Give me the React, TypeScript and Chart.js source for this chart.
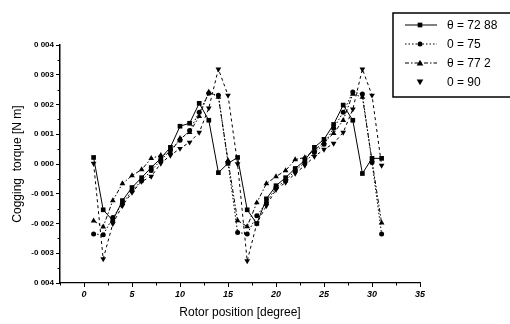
import React, { useEffect, useRef } from 'react';
import { Chart, registerables } from 'chart.js';

Chart.register(...registerables);

const rotorPosition = [1, 2, 3, 4, 5, 6, 7, 8, 9, 10, 11, 12, 13, 14, 15, 16, 17, 18, 19, 20, 21, 22, 23, 24, 25, 26, 27, 28, 29, 30, 31];

const torque7288 = [0.00022, -0.00154, -0.0019, -0.00123, -0.00079, -0.00046, -0.00012, 0.00019, 0.00056, 0.00127, 0.00137, 0.00204, 0.00147, -0.00029, 0.00002,
  0.00022, -0.00154, -0.002, -0.00117, -0.00073, -0.00046, -0.00015, 0.00012, 0.00056, 0.00083, 0.00133, 0.00198, 0.00147, -0.00032, 0.00019, 0.00019];

const torque75 = [-0.00235, -0.00238, -0.0018, -0.00133, -0.0009, -0.00056, -0.00022, 0.00012, 0.00046, 0.0008, 0.00113, 0.00174, 0.00238, 0.00231, 0.00005,
  -0.0023, -0.00235, -0.00174, -0.0013, -0.00079, -0.00056, -0.00022, 0.00005, 0.00039, 0.00066, 0.0012, 0.00174, 0.00242, 0.00235, 0.00005, -0.00235];

const torque772 = [-0.00191, -0.00211, -0.00123, -0.00066, -0.00039, -0.00019, 0.00019, 0.00029, 0.00039, 0.00086, 0.00106, 0.0016, 0.00242, 0.00225, 0.00012,
  -0.0019, -0.0021, -0.0013, -0.00066, -0.00042, -0.00022, 0.00015, 0.00022, 0.00046, 0.00073, 0.00103, 0.00147, 0.00235, 0.00225, 0.00012, -0.00198];

const torque90 = [0.00002, -0.00319, -0.00201, -0.0014, -0.00096, -0.00059, -0.00042, 0.00002, 0.00029, 0.00052, 0.00073, 0.00106, 0.00188, 0.00319, 0.00231,
  0.0, -0.00326, -0.002, -0.0014, -0.00086, -0.00062, -0.00032, -0.00005, 0.00025, 0.00049, 0.00069, 0.00106, 0.00184, 0.00319, 0.00231, -0.00005];

const seriesLabels = ['θ = 72 88', '0 = 75', 'θ = 77 2', '0 = 90'];
const yTickLabels = ['0 004', '-0 003', '-0 002', '-0 001', '0 000', '0 001', '0 002', '0 003', '0 004'];
const xTitle = 'Rotor position [degree]';
const yTitle = 'Cogging  torque [N m]';

const FONT = 'Arial, "Liberation Sans", sans-serif';

function drawMarker(ctx: CanvasRenderingContext2D, style: string, rot: number, r: number, x: number, y: number) {
  ctx.beginPath();
  if (style === 'rect') {
    const s = r * Math.SQRT1_2;
    ctx.rect(x - s, y - s, 2 * s, 2 * s);
  } else if (style === 'circle') {
    ctx.arc(x, y, r, 0, Math.PI * 2);
  } else {
    const dir = rot === 180 ? -1 : 1;
    const h = r * 1.5;
    ctx.moveTo(x, y - dir * r);
    ctx.lineTo(x - r * 0.866 * 1.15, y + dir * h / 2);
    ctx.lineTo(x + r * 0.866 * 1.15, y + dir * h / 2);
    ctx.closePath();
  }
  ctx.fill();
}

const minorTicksPlugin = {
  id: 'minorTicks',
  afterDraw(chart: any) {
    const ctx = chart.ctx;
    const xs = chart.scales.x;
    const ys = chart.scales.y;
    ctx.save();
    ctx.strokeStyle = '#000';
    ctx.lineWidth = 1;
    ctx.beginPath();
    for (let k = -1; k <= 13; k += 2) {
      const v = k * 2.5;
      if (v < xs.min || v > xs.max) continue;
      const px = Math.round(xs.getPixelForValue(v)) + 0.5;
      ctx.moveTo(px, ys.bottom);
      ctx.lineTo(px, ys.bottom + 2.5);
    }
    for (let k = -7; k <= 7; k += 2) {
      const v = k * 0.0005;
      const py = Math.round(ys.getPixelForValue(v)) + 0.5;
      ctx.moveTo(xs.left - 2.5, py);
      ctx.lineTo(xs.left, py);
    }
    ctx.stroke();
    ctx.restore();
  },
};

const boxLegendPlugin = {
  id: 'boxLegend',
  afterDraw(chart: any) {
    const ctx = chart.ctx;
    ctx.save();
    ctx.strokeStyle = '#000';
    ctx.lineWidth = 1.5;
    ctx.strokeRect(393, 13, 140, 84);
    chart.data.datasets.forEach((ds: any, i: number) => {
      const y = 25 + i * 19;
      ctx.strokeStyle = '#000';
      ctx.fillStyle = '#000';
      ctx.lineWidth = 1;
      if (ds.legendLine) {
        ctx.setLineDash(ds.borderDash || []);
        ctx.beginPath();
        ctx.moveTo(405, y);
        ctx.lineTo(437, y);
        ctx.stroke();
        ctx.setLineDash([]);
      }
      drawMarker(ctx, ds.pointStyle, ds.pointRotation || 0, ds.pointRadius, 420, y);
      ctx.font = '12px ' + FONT;
      ctx.textBaseline = 'middle';
      ctx.textAlign = 'left';
      ctx.fillText(ds.label, 447, y + 1);
    });
    ctx.restore();
  },
};

export default function App() {
  const canvasRef = useRef<HTMLCanvasElement | null>(null);

  useEffect(() => {
    document.body.style.margin = '0';
    const canvas = canvasRef.current;
    if (!canvas) return;
    const mk = (label: string, values: number[], style: string, radius: number, dash: number[], legendLine: boolean, rotation = 0) => ({
      label,
      data: rotorPosition.map((x, i) => ({ x, y: values[i] })),
      borderColor: '#000',
      backgroundColor: '#000',
      borderWidth: 1,
      borderDash: dash,
      pointStyle: style,
      pointRotation: rotation,
      pointRadius: radius,
      pointBorderWidth: 0,
      pointBackgroundColor: '#000',
      tension: 0,
      fill: false,
      legendLine,
    });

    const chart = new Chart(canvas, {
      type: 'line',
      data: {
        datasets: [
          mk(seriesLabels[0], torque7288, 'rect', 3.3, [], true),
          mk(seriesLabels[1], torque75, 'circle', 2.5, [1.5, 2], true),
          mk(seriesLabels[2], torque772, 'triangle', 3.3, [4, 2, 1.5, 2], true),
          mk(seriesLabels[3], torque90, 'triangle', 3.3, [3, 3], false, 180),
        ] as any,
      },
      options: {
        animation: false,
        responsive: false,
        devicePixelRatio: 1,
        layout: { padding: { left: 0, top: 45, right: 90, bottom: 0 } },
        plugins: { legend: { display: false }, tooltip: { enabled: false } },
        scales: {
          x: {
            type: 'linear',
            min: -2.5,
            max: 35,
            afterFit: (s: any) => { s.height = 41; },
            ticks: {
              stepSize: 5,
              includeBounds: false,
              color: '#000',
              padding: 2,
              font: { family: FONT, size: 9, style: 'italic', weight: 'bold' },
            },
            grid: { drawOnChartArea: false, drawTicks: true, tickLength: 4, color: '#000', lineWidth: 1 },
            border: { display: true, color: '#000', width: 1.2 },
            title: {
              display: true,
              text: xTitle,
              color: '#000',
              padding: { top: 0, bottom: 4 },
              font: { family: FONT, size: 12 },
            },
          },
          y: {
            type: 'linear',
            min: -0.004,
            max: 0.004,
            afterFit: (s: any) => { s.width = 60; },
            ticks: {
              stepSize: 0.001,
              color: '#000',
              padding: 2,
              font: { family: FONT, size: 8, weight: 'bold' },
              callback: (_v: any, index: number) => yTickLabels[index],
            },
            grid: { drawOnChartArea: false, drawTicks: true, tickLength: 4, color: '#000', lineWidth: 1 },
            border: { display: true, color: '#000', width: 1.5 },
            title: {
              display: true,
              text: yTitle,
              color: '#000',
              padding: { top: 10, bottom: 0 },
              font: { family: FONT, size: 12 },
            },
          },
        },
      },
      plugins: [minorTicksPlugin, boxLegendPlugin],
    });
    return () => chart.destroy();
  }, []);

  return (
    <div style={{ width: 510, height: 324, background: '#fff' }}>
      <canvas ref={canvasRef} width={510} height={324} style={{ display: 'block', width: 510, height: 324 }} />
    </div>
  );
}
